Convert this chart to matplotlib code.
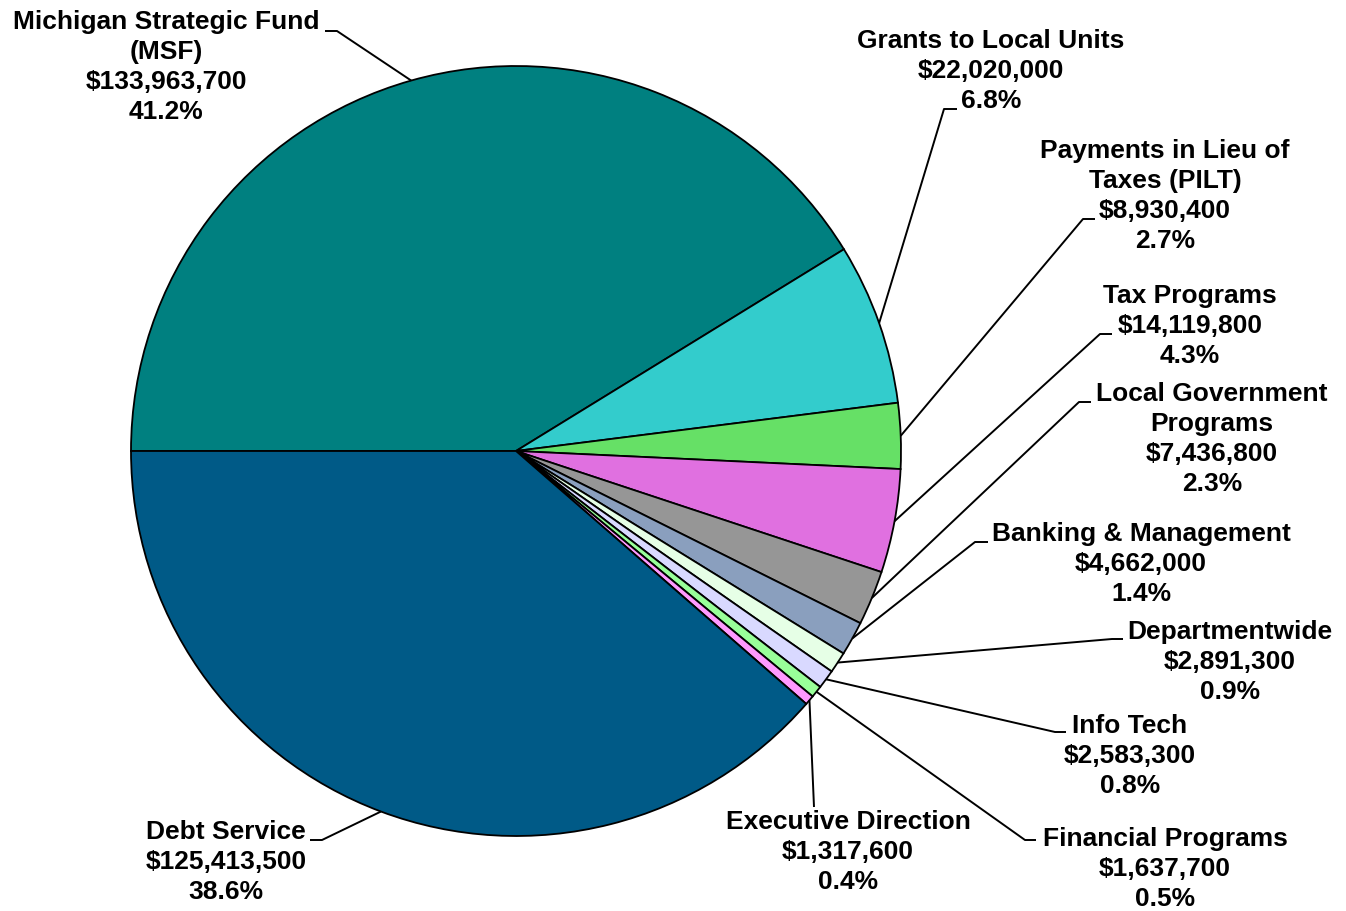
import numpy as np
import matplotlib.pyplot as plt

# data
names = ["Michigan Strategic Fund\n(MSF)", "Grants to Local Units", "Payments in Lieu of\nTaxes (PILT)",
         "Tax Programs", "Local Government\nPrograms", "Banking & Management", "Departmentwide",
         "Info Tech", "Financial Programs", "Executive Direction", "Debt Service"]
amounts = [133963700, 22020000, 8930400, 14119800, 7436800, 4662000, 2891300,
           2583300, 1637700, 1317600, 125413500]
colors = ["#008080", "#33CCCC", "#66E066", "#E070E0", "#969696", "#8A9FBE", "#E6FFE6",
          "#D9D9FF", "#99FF99", "#FF99FF", "#005A87"]

# label layout in pixel coords (y from top): text centre, stub start, elbow
text_pos = [(166, 67), (991, 71), (1165, 196), (1190, 326), (1212, 439), (1141, 564),
            (1230, 662), (1130, 756), (1165, 869), (848, 852), (226, 862)]
stub_pos = [(325, 32), (957, 110), (1095, 220), (1112, 335), (1091, 403), (988, 543),
            (1123, 640), (1066, 733), (1036, 841), (814, 808), (310, 841)]
elbow_pos = [(337, 32), (944, 110), (1083, 220), (1100, 335), (1079, 403), (975, 543),
             (1112, 640), (1055, 733), (1025, 841), (814, 808), (322, 841)]

W, H = 1346, 912
cx, cy, R = 516, 452, 385

plt.rcParams['font.family'] = ['Liberation Sans', 'DejaVu Sans']
fig = plt.figure(figsize=(W / 100, H / 100), dpi=100)
ax = fig.add_axes([0, 0, 1, 1])

wedges, _ = ax.pie(amounts, colors=colors, startangle=180, counterclock=False,
                   center=(cx, H - cy), radius=R, frame=True,
                   wedgeprops=dict(edgecolor='black', linewidth=1.3))
ax.set_xlim(0, W)
ax.set_ylim(0, H)
ax.axis('off')

total = sum(amounts)
for i, w in enumerate(wedges):
    mid = np.deg2rad((w.theta1 + w.theta2) / 2)
    px = cx + R * np.cos(mid)
    py = (H - cy) + R * np.sin(mid)
    ex, ey = elbow_pos[i]
    sx, sy = stub_pos[i]
    ax.plot([px, ex, sx], [py, H - ey, H - sy], color='black', lw=1.4,
            solid_capstyle='butt')
    label = f"{names[i]}\n${amounts[i]:,}\n{amounts[i] / total * 100:.1f}%"
    tx, ty = text_pos[i]
    ax.text(tx, H - ty, label, ha='center', va='center', fontsize=19,
            fontweight='bold', linespacing=1.32)

fig.savefig("out.png", dpi=100)
